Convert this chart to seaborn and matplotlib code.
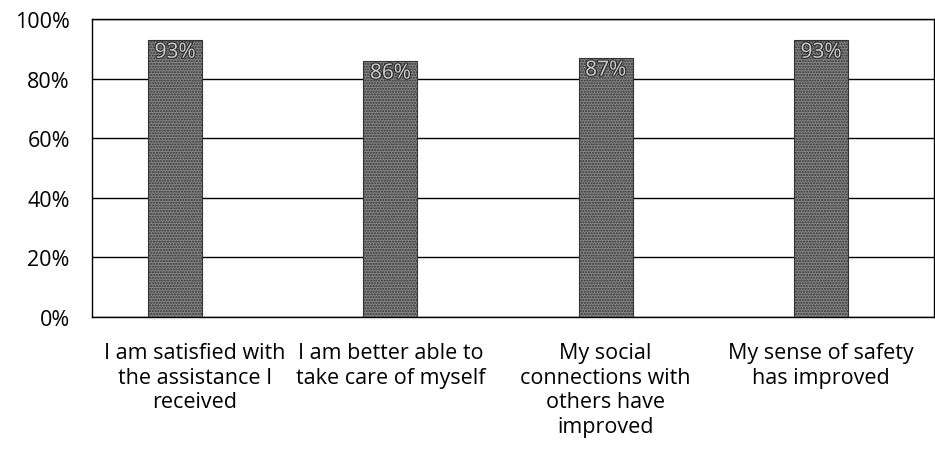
import matplotlib
matplotlib.use("Agg")
import matplotlib.pyplot as plt
import matplotlib.patheffects as pe
import matplotlib.transforms as mtransforms
import seaborn as sns
import pandas as pd
from matplotlib.ticker import PercentFormatter

categories = [
    "I am satisfied with\nthe assistance I\nreceived",
    "I am better able to\ntake care of myself",
    "My social\nconnections with\nothers have\nimproved",
    "My sense of safety\nhas improved",
]
values = [93, 86, 87, 93]

df = pd.DataFrame({"category": categories, "value": values})

sns.set_theme(style="white")
plt.rcParams["font.family"] = ["Open Sans", "DejaVu Sans"]
plt.rcParams["hatch.color"] = "#3a3a3a"

fig = plt.figure(figsize=(9.35, 4.6), dpi=100)
ax = fig.add_axes([92 / 935, 1 - 318 / 460, (934 - 92) / 935, (318 - 20) / 460])

sns.barplot(data=df, x="category", y="value", color="#858585", width=0.25,
            edgecolor="#333333", linewidth=0.8, ax=ax)
for p in ax.patches:
    p.set_hatch("......")
    p.set_zorder(3)

ax.set_xlim(-0.386, 3.525)
ax.set_ylim(0, 100)
ax.set_yticks(range(0, 101, 20))
ax.yaxis.set_major_formatter(PercentFormatter(decimals=0))
ax.grid(axis="y", color="black", linewidth=1.0, zorder=0)
ax.set_axisbelow(True)
for s in ax.spines.values():
    s.set_color("black")
    s.set_linewidth(1.0)
ax.set_xlabel("")
ax.set_ylabel("")
ax.tick_params(axis="both", length=0, labelsize=15.5, colors="black")
ax.tick_params(axis="x", pad=18)
ax.tick_params(axis="y", pad=16)
xlabels = ax.get_xticklabels()
for lbl in xlabels:
    lbl.set_linespacing(1.22)
# the first category label sits a little right of its bar
xlabels[0].set_transform(xlabels[0].get_transform() +
                         mtransforms.ScaledTranslation(0.2, 0, fig.dpi_scale_trans))

for i, v in enumerate(values):
    ax.text(i, v - 0.6, f"{v}%", ha="center", va="top", fontsize=15,
            color="#d0d0d0", zorder=5,
            path_effects=[pe.withStroke(linewidth=1.6, foreground="#2a2a2a")])

fig.savefig("out.png", dpi=100)
